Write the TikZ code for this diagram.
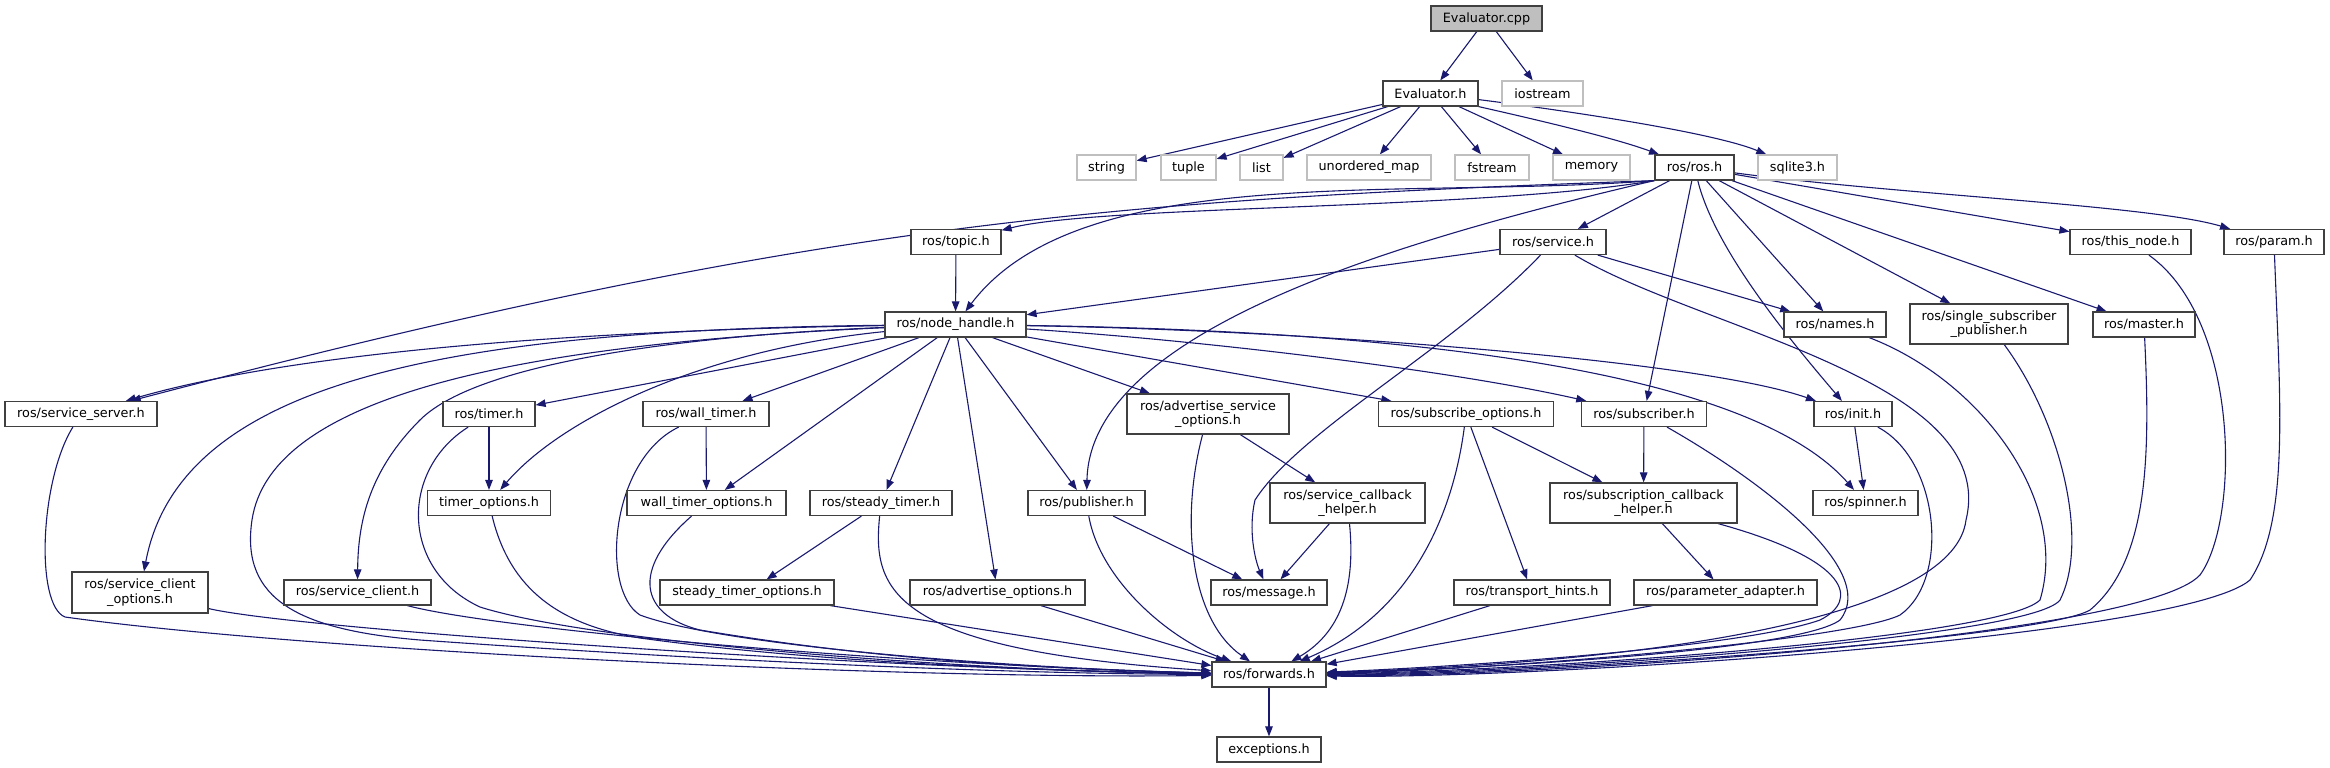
\documentclass[tikz,border=0pt]{standalone}
\usepackage{fontspec}
\setmainfont{DejaVu Sans}
\usetikzlibrary{arrows.meta}
\usetikzlibrary{backgrounds}
\definecolor{custom-navy}{RGB}{25,25,112}
\definecolor{custom-grey}{RGB}{191,191,191}
\definecolor{custom-border}{RGB}{64,64,64}

\begin{document}
\begin{tikzpicture}[x=1pt, y=-1pt,
    incbox/.style={draw=custom-border, line width=1.2pt, fill=white, inner sep=0pt,
      minimum height=25pt, align=center, font=\fontsize{12.8}{14.7}\selectfont},
    sysbox/.style={incbox, draw=custom-grey},
    incedge/.style={draw=custom-navy, line width=1.1pt, -{Triangle[length=10pt,width=7.5pt]}}]
\useasboundingbox (0,0) rectangle (2330,768);

% top rows
\node[incbox, fill=custom-grey, minimum width=111pt] (cpp) at (1486.5,18.5) {Evaluator.cpp};
\node[incbox, minimum width=95pt] (evh) at (1430.5,93.5) {Evaluator.h};
\node[sysbox, minimum width=81pt] (iostream) at (1542.5,93.5) {iostream};
\node[sysbox, minimum width=59pt] (string) at (1106.5,167.5) {string};
\node[sysbox, minimum width=55pt] (tuple) at (1188.5,167.5) {tuple};
\node[sysbox, minimum width=43pt] (list) at (1261.5,167.5) {list};
\node[sysbox, minimum width=124pt] (umap) at (1369,167.5) {unordered\_map};
\node[sysbox, minimum width=74pt] (fstream) at (1492,167.5) {fstream};
\node[sysbox, minimum width=77pt] (memory) at (1591.5,167.5) {memory};
\node[incbox, minimum width=79pt] (ros) at (1694.5,167.5) {ros/ros.h};
\node[sysbox, minimum width=79pt] (sqlite) at (1797.5,167.5) {sqlite3.h};

\node[incbox, minimum width=90pt] (topic) at (956,242) {ros/topic.h};
\node[incbox, minimum width=106pt] (service) at (1553,242) {ros/service.h};
\node[incbox, minimum width=121pt] (thisnode) at (2130.5,242) {ros/this\_node.h};
\node[incbox, minimum width=100pt] (param) at (2274,242) {ros/param.h};

\node[incbox, minimum width=141pt] (nh) at (955.5,324.5) {ros/node\_handle.h};
\node[incbox, minimum width=102pt] (names) at (1835,324.5) {ros/names.h};
\node[incbox, minimum width=158pt, minimum height=40pt] (sspub) at (1989,324) {ros/single\_subscriber\\\_publisher.h};
\node[incbox, minimum width=102pt] (master) at (2144,324.5) {ros/master.h};

% middle rows
\node[incbox, minimum width=152pt] (srvserver) at (81,414) {ros/service\_server.h};
\node[incbox, minimum width=92pt] (timer) at (489,414) {ros/timer.h};
\node[incbox, minimum width=126pt] (walltimer) at (706,414) {ros/wall\_timer.h};
\node[incbox, minimum width=162pt, minimum height=40pt] (advsrvopt) at (1208,414) {ros/advertise\_service\\\_options.h};
\node[incbox, minimum width=175pt] (subopt) at (1466,414) {ros/subscribe\_options.h};
\node[incbox, minimum width=125pt] (subscriber) at (1644,414) {ros/subscriber.h};
\node[incbox, minimum width=78pt] (init) at (1853,414) {ros/init.h};

\node[incbox, minimum width=123pt] (timeropt) at (489,503) {timer\_options.h};
\node[incbox, minimum width=159pt] (walltimeropt) at (706.5,503) {wall\_timer\_options.h};
\node[incbox, minimum width=142pt] (steadytimer) at (881,503) {ros/steady\_timer.h};
\node[incbox, minimum width=117pt] (publisher) at (1086.5,503) {ros/publisher.h};
\node[incbox, minimum width=155pt, minimum height=40pt] (srvcb) at (1347.5,503) {ros/service\_callback\\\_helper.h};
\node[incbox, minimum width=187pt, minimum height=40pt] (subcb) at (1643.5,503) {ros/subscription\_callback\\\_helper.h};
\node[incbox, minimum width=105pt] (spinner) at (1865.5,503) {ros/spinner.h};

% bottom rows
\node[incbox, minimum width=136pt, minimum height=41pt] (srvclientopt) at (140,592.5) {ros/service\_client\\\_options.h};
\node[incbox, minimum width=147pt] (srvclient) at (357.5,592.5) {ros/service\_client.h};
\node[incbox, minimum width=174pt] (steadyopt) at (747,592.5) {steady\_timer\_options.h};
\node[incbox, minimum width=175pt] (advopt) at (997.5,592.5) {ros/advertise\_options.h};
\node[incbox, minimum width=116pt] (message) at (1269,592.5) {ros/message.h};
\node[incbox, minimum width=156pt] (transport) at (1532,592.5) {ros/transport\_hints.h};
\node[incbox, minimum width=183pt] (paramadapt) at (1725.5,592.5) {ros/parameter\_adapter.h};
\node[incbox, minimum width=114pt] (forwards) at (1269,674.5) {ros/forwards.h};
\node[incbox, minimum width=104pt] (exceptions) at (1269,749.5) {exceptions.h};

\begin{scope}[on background layer]
% edges from the top files
\draw[incedge] (cpp) -- (evh);
\draw[incedge] (cpp) -- (iostream);
\draw[incedge] (evh) -- (string);
\draw[incedge] (evh) -- (tuple);
\draw[incedge] (evh) -- (list);
\draw[incedge] (evh) -- (umap);
\draw[incedge] (evh) -- (fstream);
\draw[incedge] (evh) -- (memory);
\draw[incedge] (evh.south east) .. controls (1560,125) and (1620,140) .. (ros);
\draw[incedge] (evh) .. controls (1600,115) and (1720,135) .. (sqlite);

% ros/ros.h
\draw[incedge] (ros.south west) .. controls (1480,210) and (1100,205) .. (topic);
\draw[incedge] (ros.south west) .. controls (1400,200) and (1080,160) .. (nh);
\draw[incedge] (ros.south west) .. controls (1100,200) and (800,225) .. (srvserver);
\draw[incedge] (ros.south west) .. controls (1400,240) and (1090,330) .. (publisher);
\draw[incedge] (ros) -- (service);
\draw[incedge] (ros) -- (subscriber);
\draw[incedge] (ros) -- (names);
\draw[incedge] (ros) .. controls (1715,250) and (1790,340) .. (init);
\draw[incedge] (ros) -- (sspub);
\draw[incedge] (ros) -- (master);
\draw[incedge] (ros) -- (thisnode);
\draw[incedge] (ros) .. controls (1900,195) and (2150,205) .. (param);

% ros/topic.h and ros/service.h
\draw[incedge] (topic) -- (nh);
\draw[incedge] (service) -- (nh);
\draw[incedge] (service) -- (names);
\draw[incedge] (service) .. controls (1450,350) and (1300,430) .. (1255,500)
  .. controls (1248,530) and (1255,560) .. (message);
\draw[incedge] (service) .. controls (1700,330) and (2000,380) .. (1966,520)
  .. controls (1955,610) and (1700,660) .. (forwards);

% ros/node_handle.h
\draw[incedge] (nh) .. controls (600,330) and (300,350) .. (srvserver);
\draw[incedge] (nh) .. controls (450,330) and (180,380) .. (srvclientopt);
\draw[incedge] (nh) .. controls (700,335) and (480,360) .. (420,420)
  .. controls (370,470) and (358,520) .. (srvclient);
\draw[incedge] (nh) -- (timer);
\draw[incedge] (nh) .. controls (700,350) and (560,420) .. (timeropt);
\draw[incedge] (nh) -- (walltimer);
\draw[incedge] (nh) -- (walltimeropt);
\draw[incedge] (nh) -- (steadytimer);
\draw[incedge] (nh) -- (advopt);
\draw[incedge] (nh) -- (publisher);
\draw[incedge] (nh) -- (advsrvopt);
\draw[incedge] (nh) -- (subopt);
\draw[incedge] (nh) .. controls (1200,340) and (1450,370) .. (subscriber);
\draw[incedge] (nh) .. controls (1300,330) and (1700,360) .. (init);
\draw[incedge] (nh) .. controls (1350,330) and (1740,360) .. (spinner);
\draw[incedge] (nh) .. controls (500,345) and (270,400) .. (252,520)
  .. controls (240,600) and (300,630) .. (420,640)
  .. controls (700,660) and (1000,674) .. (forwards);

% middle files
\draw[incedge] (timer) -- (timeropt);
\draw[incedge] (walltimer) -- (walltimeropt);
\draw[incedge] (steadytimer) -- (steadyopt);
\draw[incedge] (publisher) -- (message);
\draw[incedge] (advsrvopt) -- (srvcb);
\draw[incedge] (srvcb) -- (message);
\draw[incedge] (subopt) -- (transport);
\draw[incedge] (subopt) -- (subcb);
\draw[incedge] (subscriber) -- (subcb);
\draw[incedge] (subcb) -- (paramadapt);
\draw[incedge] (init) -- (spinner);

% into ros/forwards.h from the left
\draw[incedge] (srvserver) .. controls (40,480) and (35,605) .. (65,617)
  .. controls (300,650) and (900,680) .. (forwards);
\draw[incedge] (srvclientopt) .. controls (300,630) and (900,670) .. (forwards);
\draw[incedge] (srvclient) .. controls (500,630) and (900,665) .. (forwards);
\draw[incedge] (timer) .. controls (400,470) and (400,570) .. (480,607)
  .. controls (600,645) and (1000,672) .. (forwards);
\draw[incedge] (timeropt) .. controls (510,590) and (560,625) .. (640,638)
  .. controls (800,660) and (1000,670) .. (forwards);
\draw[incedge] (walltimer) .. controls (610,460) and (600,590) .. (640,615)
  .. controls (720,645) and (1000,668) .. (forwards);
\draw[incedge] (walltimeropt) .. controls (630,570) and (640,615) .. (700,630)
  .. controls (850,655) and (1000,668) .. (forwards);
\draw[incedge] (steadytimer) .. controls (872,590) and (890,650) .. (forwards);
\draw[incedge] (steadyopt) -- (forwards);
\draw[incedge] (advopt) -- (forwards);
\draw[incedge] (publisher) .. controls (1100,580) and (1170,640) .. (forwards);
\draw[incedge] (advsrvopt) .. controls (1180,520) and (1190,620) .. (forwards);
\draw[incedge] (srvcb) .. controls (1355,580) and (1345,630) .. (forwards);
\draw[incedge] (subopt) .. controls (1455,500) and (1420,610) .. (forwards);

% into ros/forwards.h from the right
\draw[incedge] (transport) -- (forwards);
\draw[incedge] (paramadapt) -- (forwards);
\draw[incedge] (subcb) .. controls (1850,560) and (1860,600) .. (1820,620)
  .. controls (1750,645) and (1500,665) .. (forwards);
\draw[incedge] (subscriber) .. controls (1760,480) and (1880,570) .. (1840,620)
  .. controls (1800,650) and (1500,668) .. (forwards);
\draw[incedge] (init) .. controls (1940,460) and (1950,580) .. (1900,615)
  .. controls (1850,640) and (1500,670) .. (forwards);
\draw[incedge] (names) .. controls (1980,380) and (2070,500) .. (2040,600)
  .. controls (2000,640) and (1500,672) .. (forwards);
\draw[incedge] (sspub) .. controls (2060,420) and (2090,540) .. (2060,600)
  .. controls (2030,640) and (1500,674) .. (forwards);
\draw[incedge] (master) .. controls (2150,450) and (2150,560) .. (2090,610)
  .. controls (2040,640) and (1500,676) .. (forwards);
\draw[incedge] (thisnode) .. controls (2240,320) and (2240,520) .. (2200,575)
  .. controls (2140,640) and (1500,678) .. (forwards);
\draw[incedge] (param) .. controls (2280,400) and (2290,520) .. (2250,580)
  .. controls (2180,640) and (1500,680) .. (forwards);

\draw[incedge] (forwards) -- (exceptions);
\end{scope}
\end{tikzpicture}
\end{document}
